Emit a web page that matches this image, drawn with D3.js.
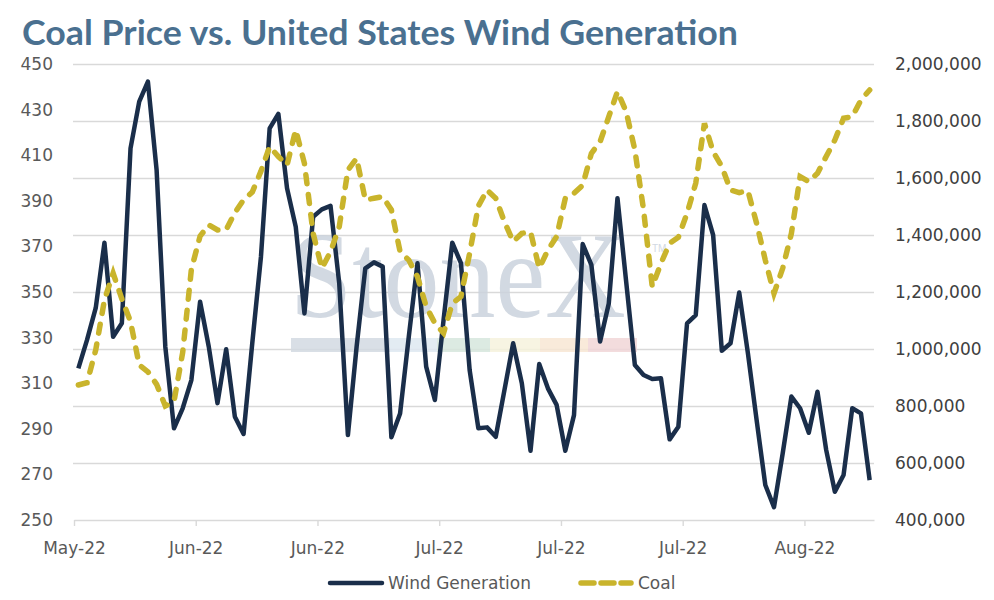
<!DOCTYPE html>
<html>
<head>
<meta charset="utf-8">
<script src="https://cdn.jsdelivr.net/npm/d3@7"></script>
<style>
    body { margin: 0; background: #fff; }
    .grid line { stroke: #d9d9d9; stroke-width: 1.4; }
    .axis text { font-family: "DejaVu Sans", sans-serif; font-size: 17px; }
</style>
</head>
<body>
<div id="chart"></div>
<script>
var chartTitle = "Coal Price vs. United States Wind Generation";
var seriesNames = ["Wind Generation", "Coal"];
var startDate = "2022-05-20";
var tickDates = ["2022-05-20", "2022-06-03", "2022-06-17", "2022-07-01", "2022-07-15", "2022-07-29", "2022-08-12"];
var coalTicks = [250, 270, 290, 310, 330, 350, 370, 390, 410, 430, 450];
var windTicks = [400000, 600000, 800000, 1000000, 1200000, 1400000, 1600000, 1800000, 2000000];

// daily wind generation (right axis)
var windValues = [
    932000, 1032000, 1144000, 1373000, 1043000, 1090000, 1704000, 1868000, 1938000, 1628000,
    1008000, 722000, 792000, 891000, 1166000, 1008000, 810000, 999000, 762000, 702000,
    1020000, 1324000, 1774000, 1825000, 1564000, 1429000, 1125000, 1464000, 1490000, 1502000,
    1231000, 698000, 1008000, 1283000, 1304000, 1289000, 690000, 774000, 1043000, 1301000,
    938000, 821000, 1102000, 1373000, 1301000, 926000, 722000, 725000, 692000, 856000,
    1020000, 880000, 643000, 947000, 862000, 804000, 643000, 768000, 1368000, 1295000,
    1026000, 1160000, 1529000, 1236000, 944000, 909000, 895000, 897000, 683000, 727000,
    1090000, 1119000, 1505000, 1400000, 994000, 1020000, 1198000, 985000, 751000, 523000,
    445000, 634000, 833000, 792000, 706000, 850000, 646000, 499000, 558000, 792000,
    774000, 540000
];

// coal price (left axis)
var coalValues = [
    309.2, 310.2, 324.6, 346.5, 358.2, 347.0, 337.0, 318.0, 315.0, 309.5,
    300.0, 302.0, 323.5, 360.0, 374.5, 379.4, 377.2, 377.3, 384.8, 390.4,
    393.8, 403.0, 413.8, 409.4, 405.7, 421.1, 406.4, 375.7, 360.4, 367.7,
    378.6, 403.5, 408.6, 390.4, 391.1, 391.8, 386.0, 367.7, 364.0, 356.7,
    343.6, 336.3, 332.0, 345.0, 348.0, 367.0, 387.7, 394.7, 391.1, 380.8,
    372.1, 375.7, 376.4, 360.4, 368.4, 374.3, 391.1, 393.3, 396.9, 410.8,
    415.9, 426.9, 437.9, 429.1, 412.3, 386.0, 352.3, 362.6, 371.4, 374.0,
    384.5, 397.7, 424.0, 411.5, 405.0, 394.7, 393.6, 394.4, 380.1, 364.0,
    349.4, 360.4, 375.7, 400.6, 398.4, 402.1, 409.4, 416.7, 426.2, 426.9,
    434.2, 438.6
];

var width = 994, height = 600;
var plot = {left: 74, right: 874, top: 64, bottom: 520};
var windColor = "#1a2e4a";
var coalColor = "#c9b42c";

var parse = d3.timeParse("%Y-%m-%d");
var start = parse(startDate);
var dates = windValues.map((d, i) => d3.timeHour.offset(d3.timeDay.offset(start, i), 12));

var x = d3.scaleTime()
        .domain([start, d3.timeDay.offset(start, windValues.length)])
        .range([plot.left, plot.right]);

var yCoal = d3.scaleLinear()
        .domain([250, 450])
        .range([plot.bottom, plot.top]);

var yWind = d3.scaleLinear()
        .domain([400000, 2000000])
        .range([plot.bottom, plot.top]);

var svg = d3.select("#chart").append("svg")
            .attr("width", width)
            .attr("height", height);

svg.append("rect")
    .attr("width", width)
    .attr("height", height)
    .attr("fill", "#fff");

svg.append("text")
    .attr("x", 22)
    .attr("y", 45)
    .attr("textLength", 716)
    .attr("lengthAdjust", "spacingAndGlyphs")
    .style("font-family", "Lato, sans-serif")
    .style("font-weight", "bold")
    .style("font-size", "34px")
    .attr("fill", "#4a7090")
    .text(chartTitle);

// gridlines follow the right (wind) axis
var grid = svg.append("g")
    .attr("class", "grid")
    .attr("transform", "translate(" + (plot.left - 1) + ",0)")
    .call(d3.axisRight(yWind).tickValues(windTicks.slice(1)).tickSize(plot.right - plot.left + 1).tickFormat(""));
grid.select(".domain").remove();

// watermark
var mark = svg.append("g").attr("opacity", 0.85);
mark.append("text")
    .attr("transform", "translate(290,317) scale(1,1.1)")
    .style("font-family", "'Liberation Serif', serif")
    .style("font-size", "112px")
    .attr("fill", "#cbd3dd")
    .text("StoneX");
mark.append("text")
    .attr("x", 652)
    .attr("y", 252)
    .style("font-family", "'Liberation Sans', sans-serif")
    .style("font-size", "10px")
    .attr("fill", "#cbd3dd")
    .text("TM");
var bandColors = ["#d3dae2", "#dfe9f2", "#d7e7dd", "#f6f3dd", "#f8e7d4", "#f1d6d8"];
var bandEdges = [291, 390, 437, 490, 540, 588, 637];
mark.selectAll(".band")
    .data(bandColors)
    .enter()
    .append("rect")
    .attr("class", "band")
    .attr("x", (d, i) => bandEdges[i])
    .attr("width", (d, i) => bandEdges[i + 1] - bandEdges[i])
    .attr("y", 338)
    .attr("height", 14)
    .attr("fill", d => d);

// x axis
var xAxis = svg.append("g")
    .attr("class", "axis")
    .attr("transform", "translate(0," + plot.bottom + ")")
    .call(d3.axisBottom(x)
        .tickValues(tickDates.map(parse))
        .tickSize(6)
        .tickSizeOuter(0)
        .tickPadding(16)
        .tickFormat(d3.timeFormat("%b-%y")));
xAxis.select(".domain").attr("stroke", "#d9d9d9").attr("stroke-width", 1.4);
xAxis.selectAll(".tick line").attr("stroke", "#d9d9d9").attr("stroke-width", 1.4);
xAxis.selectAll("text").attr("fill", "#595959");

// left axis (coal)
var leftAxis = svg.append("g")
    .attr("class", "axis")
    .attr("transform", "translate(" + plot.left + ",0)")
    .call(d3.axisLeft(yCoal).tickValues(coalTicks).tickSize(0).tickPadding(21));
leftAxis.select(".domain").remove();
leftAxis.selectAll("text").attr("fill", "#595959");

// right axis (wind)
var rightAxis = svg.append("g")
    .attr("class", "axis")
    .attr("transform", "translate(" + plot.right + ",0)")
    .call(d3.axisRight(yWind).tickValues(windTicks).tickSize(0).tickPadding(21).tickFormat(d3.format(",")));
rightAxis.select(".domain").remove();
rightAxis.selectAll("text").attr("fill", "#404040");

var windLine = d3.line()
    .x((d, i) => x(dates[i]))
    .y(d => yWind(d));

var coalLine = d3.line()
    .x((d, i) => x(dates[i]))
    .y(d => yCoal(d));

svg.append("path")
    .datum(windValues)
    .attr("fill", "none")
    .attr("stroke", windColor)
    .attr("stroke-width", 4.5)
    .attr("stroke-linejoin", "round")
    .attr("d", windLine);

svg.append("path")
    .datum(coalValues)
    .attr("fill", "none")
    .attr("stroke", coalColor)
    .attr("stroke-width", 5.5)
    .attr("stroke-linecap", "round")
    .attr("stroke-dasharray", "9,11")
    .attr("d", coalLine);

// legend
var legend = svg.append("g").attr("transform", "translate(0,583)");
legend.append("line")
    .attr("x1", 330).attr("x2", 382)
    .attr("stroke", windColor)
    .attr("stroke-width", 4.5)
    .attr("stroke-linecap", "round");
legend.append("text")
    .attr("x", 388)
    .attr("dy", "0.35em")
    .style("font-family", "'DejaVu Sans', sans-serif")
    .style("font-size", "17px")
    .attr("fill", "#595959")
    .text(seriesNames[0]);
legend.append("line")
    .attr("x1", 581).attr("x2", 631)
    .attr("stroke", coalColor)
    .attr("stroke-width", 5.5)
    .attr("stroke-linecap", "round")
    .attr("stroke-dasharray", "13,7");
legend.append("text")
    .attr("x", 638)
    .attr("dy", "0.35em")
    .style("font-family", "'DejaVu Sans', sans-serif")
    .style("font-size", "17px")
    .attr("fill", "#595959")
    .text(seriesNames[1]);
</script>
</body>
</html>
